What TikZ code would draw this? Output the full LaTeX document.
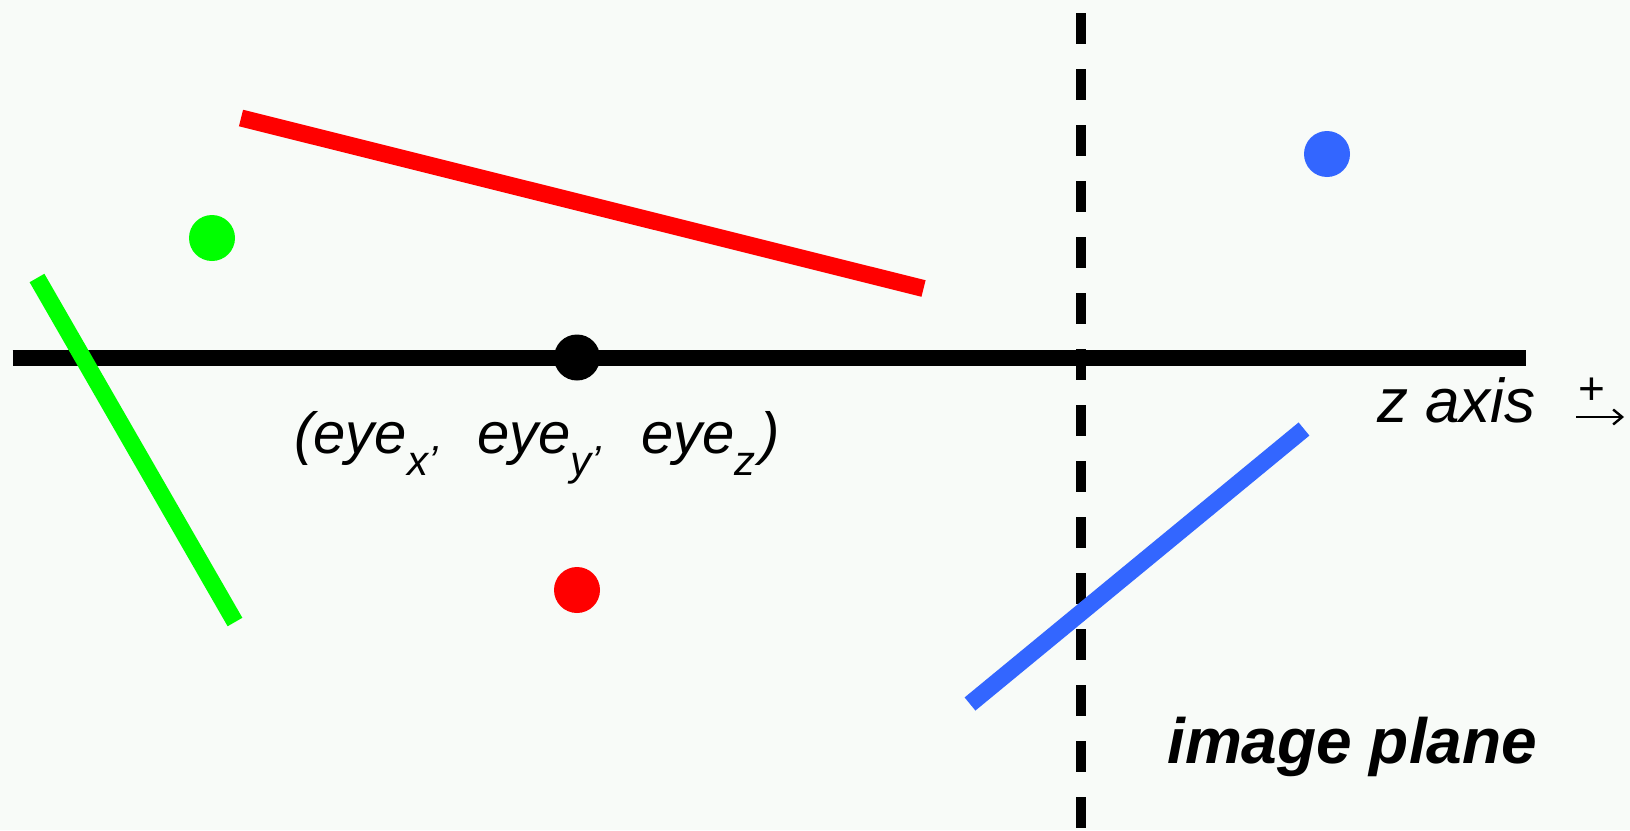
\documentclass[tikz,border=0pt]{standalone}
\usepackage{fontspec}
\setmainfont{Liberation Sans}
\usepackage{xcolor}
\usetikzlibrary{arrows.meta,positioning}
\definecolor{bgtint}{RGB}{248,251,248}
\definecolor{ptred}{RGB}{255,0,0}
\definecolor{ptgreen}{RGB}{0,255,0}
\definecolor{ptblue}{RGB}{51,102,255}
\newcommand{\eyesub}[1]{\raisebox{-22pt}{\fontsize{42}{42}\selectfont #1}}
\tikzset{
  point/.style={
    circle,
    inner sep=0pt,
    minimum size=46pt
  },
  segment/.style={
    line width=17pt
  },
  planeline/.style={
    line width=10pt,
    dash pattern=on 31pt off 25pt
  },
  axistext/.style={
    inner sep=0pt,
    anchor=base west,
    font=\fontsize{58}{62}\selectfont\itshape
  },
  planetext/.style={
    inner sep=0pt,
    anchor=base west,
    font=\fontsize{64}{68}\selectfont\bfseries\itshape
  }
}

\begin{document}
\begin{tikzpicture}[x=1pt,y=-1pt]
  \useasboundingbox[fill=bgtint] (0,0) rectangle (1630,830);

  % image plane
  \coordinate (planetop) at (1081,13);
  \coordinate (planebot) at (1081,830);
  \draw[planeline] (planetop) -- (planebot);

  % z axis
  \coordinate (axisleft) at (12.5,357.5);
  \coordinate (axisright) at (1526,357.5);
  \draw[line width=16pt] (axisleft) -- (axisright);

  % scene segments
  \coordinate (redA) at (241,118);
  \coordinate (redB) at (923.5,288.5);
  \coordinate (greenA) at (37,278);
  \coordinate (greenB) at (235,622);
  \coordinate (blueA) at (970,704);
  \coordinate (blueB) at (1304,429);
  \draw[segment, ptred] (redA) -- (redB);
  \draw[segment, ptgreen] (greenA) -- (greenB);
  \draw[segment, ptblue] (blueA) -- (blueB);

  % scene points
  \node[point, fill=black] (eye) at (577,357.5) {};
  \node[point, fill=ptgreen] (greendot) at (212,238) {};
  \node[point, fill=ptred] (reddot) at (577,590) {};
  \node[point, fill=ptblue] (bluedot) at (1327,154) {};

  % labels
  \node[axistext] (eyelabel) at (294,453)
    {(eye\eyesub{x’}\hspace{40pt}eye\eyesub{y’}\hspace{40pt}eye\eyesub{z}\hspace{5pt})};
  \node[axistext, font=\fontsize{62}{66}\selectfont\itshape] (zlabel) at (1377,422) {z axis};
  \node[inner sep=0pt, font=\fontsize{46}{46}\selectfont] (zplus) at (1592,391) {+};
  \coordinate (zarrowtail) at (1576,417);
  \coordinate (zarrowhead) at (1624,417);
  \draw[line width=2.4pt, -{Straight Barb[length=9pt,width=15pt]}] (zarrowtail) -- (zarrowhead);
  \node[planetext] (planelabel) at (1167,763) {image plane};
\end{tikzpicture}
\end{document}
